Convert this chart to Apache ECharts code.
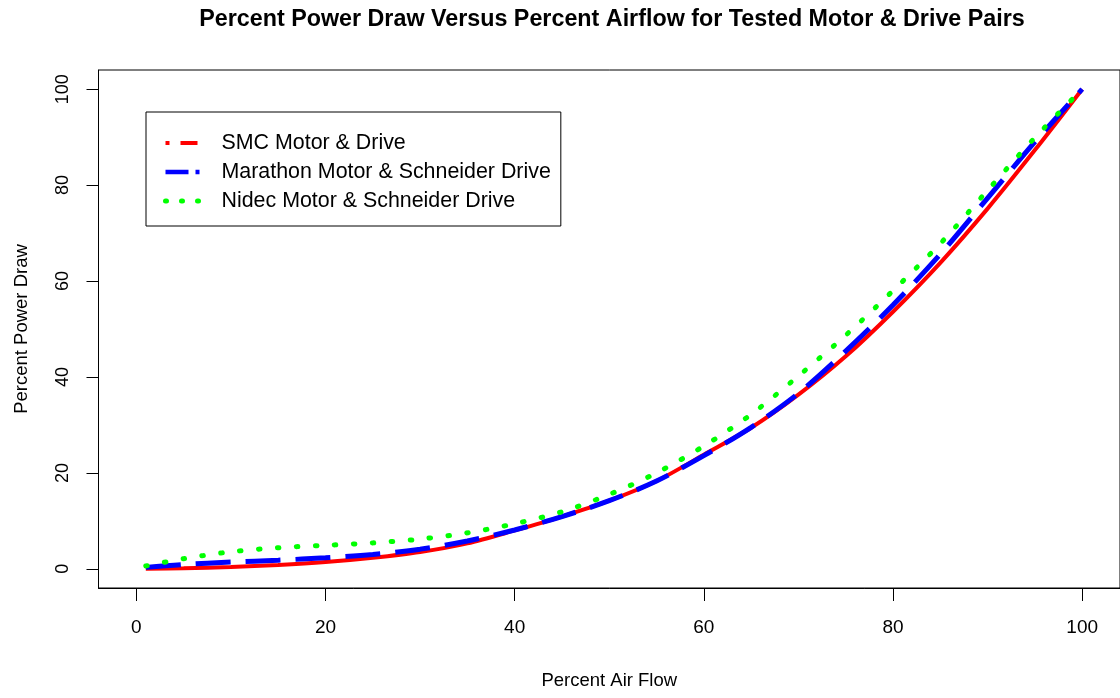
<!DOCTYPE html>
<html>
<head>
<meta charset="utf-8">
<script src="https://cdn.jsdelivr.net/npm/echarts@6/dist/echarts.min.js"></script>
<style>
html,body{margin:0;padding:0;background:#fff;}
#chart{width:1120px;height:698px;}
</style>
</head>
<body>
<div id="chart"></div>
<script>
// ---- data ----
const airflow = [1,5,10,15,20,25,30,35,40,45,50,55,60,65,70,75,80,85,90,95,100];
const smc      = [0.0,0.1,0.4,0.8,1.4,2.3,3.5,5.3,8.0,10.9,14.2,18.3,23.8,29.4,36.3,44.3,53.6,63.8,75.1,87.3,100];
const marathon = [0.3,0.9,1.4,1.8,2.3,3.0,4.1,5.8,8.1,10.9,14.2,18.3,23.6,29.5,36.6,45.4,55.0,65.6,77.3,89.0,100];
const nidec    = [0.6,2.1,3.55,4.4,4.9,5.4,6.2,7.5,9.4,11.9,15.5,20.0,25.6,32.2,40.2,48.7,58.0,67.8,78.9,89.9,100];
const seriesNames = ['SMC Motor & Drive','Marathon Motor & Schneider Drive','Nidec Motor & Schneider Drive'];
const xTicks = [0,20,40,60,80,100];
const yTicks = [0,20,40,60,80,100];
const titleText = 'Percent Power Draw Versus Percent Airflow for Tested Motor & Drive Pairs';
const xName = 'Percent Air Flow';
const yName = 'Percent Power Draw';

const pairs = v => airflow.map((x,i)=>[x, v[i]]);
const FONT = 'Liberation Sans, Arial, sans-serif';
const hiddenSymbol = {opacity:0, borderWidth:0};

const chart = echarts.init(document.getElementById('chart'), null, {renderer:'canvas'});
chart.setOption({
  backgroundColor:'#fff',
  animation:false,
  title:{
    text:titleText,
    left:612, textAlign:'center', top:8, padding:0,
    textStyle:{fontFamily:FONT, fontWeight:'bold', fontSize:23.3, color:'#000'}
  },
  grid:{left:98.5, top:70, width:1028, height:518, show:true, borderColor:'#000', borderWidth:1, backgroundColor:'#fff'},
  xAxis:{
    type:'value', min:-4, max:104,
    name:xName, nameLocation:'middle', nameGap:83,
    nameTextStyle:{fontFamily:FONT, fontSize:18.5, color:'#000'},
    axisLine:{show:true, onZero:false, lineStyle:{color:'#000', width:1}},
    axisTick:{show:true, inside:false, length:13, customValues:xTicks, lineStyle:{color:'#000'}},
    axisLabel:{show:true, customValues:xTicks, margin:30, fontFamily:FONT, fontSize:19, color:'#000'},
    splitLine:{show:false}
  },
  yAxis:{
    type:'value', min:-4, max:104,
    name:yName, nameLocation:'middle', nameGap:67, nameRotate:90,
    nameTextStyle:{fontFamily:FONT, fontSize:18.5, color:'#000'},
    axisLine:{show:true, onZero:false, lineStyle:{color:'#000', width:1}},
    axisTick:{show:true, inside:false, length:12, customValues:yTicks, lineStyle:{color:'#000'}},
    axisLabel:{show:true, customValues:yTicks, rotate:90, margin:26, fontFamily:FONT, fontSize:18, color:'#000'},
    splitLine:{show:false}
  },
  legend:{
    orient:'vertical', left:146, top:112,
    borderColor:'#000', borderWidth:1, backgroundColor:'#fff',
    padding:[20,10,14,17],
    itemWidth:34, itemHeight:14, itemGap:7,
    textStyle:{fontFamily:FONT, fontSize:21.4, lineHeight:22, color:'#000', padding:[0,0,0,17]},
    data:[
      {name:seriesNames[0], itemStyle:hiddenSymbol, lineStyle:{color:'#FF0000', width:4, type:[4,11,17,10]}},
      {name:seriesNames[1], itemStyle:hiddenSymbol, lineStyle:{color:'#0000FF', width:4.5, type:[23,7,4,10]}},
      {name:seriesNames[2], itemStyle:hiddenSymbol, lineStyle:{color:'#00FF00', width:5, type:[1,15], cap:'round'}}
    ]
  },
  series:[
    {name:seriesNames[0], type:'line', data:pairs(smc), smooth:0.3, symbol:'none', showSymbol:false,
     lineStyle:{color:'#FF0000', width:4}, itemStyle:{color:'#FF0000'}, z:2},
    {name:seriesNames[1], type:'line', data:pairs(marathon), smooth:0.3, symbol:'none', showSymbol:false,
     lineStyle:{color:'#0000FF', width:5, type:[35,15], cap:'butt'}, itemStyle:{color:'#0000FF'}, z:3},
    {name:seriesNames[2], type:'line', data:pairs(nidec), smooth:0.3, symbol:'none', showSymbol:false,
     lineStyle:{color:'#00FF00', width:5, type:[1.5,17.5], cap:'round'}, itemStyle:{color:'#00FF00'}, z:4}
  ]
});
</script>
</body>
</html>
